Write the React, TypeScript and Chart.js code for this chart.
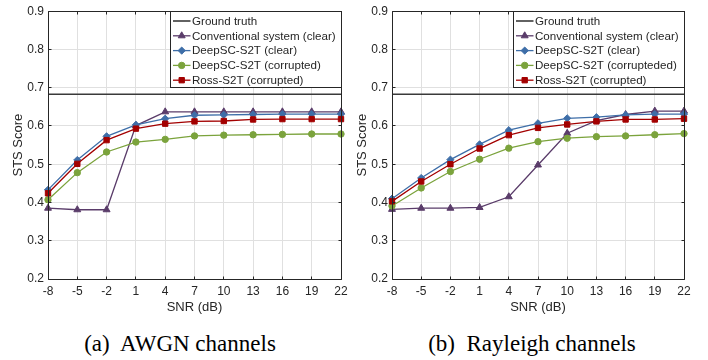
import React, { useEffect, useRef } from 'react';
import { Chart, registerables } from 'chart.js';

Chart.register(...registerables);

// ---------- data ----------
const snrLabels = ['-8', '-5', '-2', '1', '4', '7', '10', '13', '16', '19', '22'];
const groundTruthValue = 0.683;

const awgnConventional = [0.385, 0.381, 0.381, 0.601, 0.637, 0.637, 0.637, 0.637, 0.637, 0.637, 0.637];
const awgnDeepClear = [0.433, 0.511, 0.573, 0.603, 0.619, 0.628, 0.629, 0.630, 0.631, 0.631, 0.631];
const awgnDeepCorrupted = [0.407, 0.478, 0.532, 0.558, 0.565, 0.574, 0.576, 0.577, 0.578, 0.579, 0.579];
const awgnRoss = [0.424, 0.501, 0.563, 0.593, 0.606, 0.612, 0.613, 0.617, 0.618, 0.618, 0.618];

const rayConventional = [0.382, 0.385, 0.385, 0.387, 0.415, 0.498, 0.581, 0.614, 0.630, 0.639, 0.639];
const rayDeepClear = [0.410, 0.464, 0.512, 0.552, 0.589, 0.607, 0.620, 0.623, 0.629, 0.631, 0.631];
const rayDeepCorrupted = [0.391, 0.438, 0.481, 0.513, 0.542, 0.559, 0.568, 0.572, 0.574, 0.577, 0.580];
const rayRoss = [0.403, 0.455, 0.500, 0.541, 0.576, 0.595, 0.604, 0.612, 0.617, 0.617, 0.619];

const awgnLegend = ['Ground truth', 'Conventional system (clear)', 'DeepSC-S2T (clear)', 'DeepSC-S2T (corrupted)', 'Ross-S2T (corrupted)'];
const rayLegend = ['Ground truth', 'Conventional system (clear)', 'DeepSC-S2T (clear)', 'DeepSC-S2T (corrupteded)', 'Ross-S2T (corrupted)'];

const yTitle = 'STS Score';
const xTitle = 'SNR (dB)';

// ---------- styles ----------
const FONT = '"Liberation Sans", Arial, Helvetica, sans-serif';
const INK = '#262626';
const GRID = '#e0e0e0';
const colors = ['#3a3a3a', '#5a3c6a', '#3e6ea8', '#7ba33c', '#a30000'];
const markers = ['none', 'triangle', 'rectRot', 'circle', 'rect'];
const radii = [0, 4, 3.6, 3.2, 3.8];

function drawMarker(ctx: CanvasRenderingContext2D, style: string, x: number, y: number, r: number) {
  if (style === 'none') return;
  ctx.beginPath();
  if (style === 'triangle') {
    let rad = 0;
    ctx.moveTo(x + Math.sin(rad) * r, y - Math.cos(rad) * r);
    rad += (2 * Math.PI) / 3;
    ctx.lineTo(x + Math.sin(rad) * r, y - Math.cos(rad) * r);
    rad += (2 * Math.PI) / 3;
    ctx.lineTo(x + Math.sin(rad) * r, y - Math.cos(rad) * r);
    ctx.closePath();
  } else if (style === 'rectRot') {
    ctx.moveTo(x - r, y);
    ctx.lineTo(x, y - r);
    ctx.lineTo(x + r, y);
    ctx.lineTo(x, y + r);
    ctx.closePath();
  } else if (style === 'circle') {
    ctx.arc(x, y, r, 0, Math.PI * 2);
  } else if (style === 'rect') {
    const s = r * Math.SQRT1_2;
    ctx.rect(x - s, y - s, 2 * s, 2 * s);
  }
  ctx.fill();
  ctx.stroke();
}

type PanelProps = {
  series: number[][];
  legend: string[];
  plotLeft: number;
  padRight: number;
  caption: string;
  left: number;
};

const W = 354;
const H = 320;

function Panel({ series, legend, plotLeft, padRight, caption, left }: PanelProps) {
  const ref = useRef<HTMLCanvasElement | null>(null);

  useEffect(() => {
    const canvas = ref.current;
    if (!canvas) return;
    const ap = (p: number) => Math.round(p - 0.5) + 0.5;

    const decor = {
      id: 'decor',
      afterDatasetsDraw(chart: any) {
        const { ctx, chartArea: a, scales } = chart;
        const xs = scales.x;
        const ys = scales.y;
        ctx.save();
        ctx.strokeStyle = INK;
        ctx.lineWidth = 1;
        const L = ap(a.left), R = ap(a.right), T = ap(a.top), B = ap(a.bottom);
        ctx.beginPath();
        ctx.rect(L, T, R - L, B - T);
        ctx.stroke();
        // inward ticks
        ctx.beginPath();
        for (let i = 0; i < snrLabels.length; i++) {
          const px = ap(xs.getPixelForValue(i));
          ctx.moveTo(px, B); ctx.lineTo(px, B - 3);
          ctx.moveTo(px, T); ctx.lineTo(px, T + 3);
        }
        ys.ticks.forEach((t: any) => {
          const py = ap(ys.getPixelForValue(t.value));
          ctx.moveTo(L, py); ctx.lineTo(L + 3, py);
          ctx.moveTo(R, py); ctx.lineTo(R - 3, py);
        });
        ctx.stroke();

        // axis titles
        ctx.fillStyle = INK;
        ctx.font = `13px ${FONT}`;
        ctx.textAlign = 'center';
        ctx.textBaseline = 'middle';
        ctx.fillText(xTitle, (a.left + a.right) / 2, a.bottom + 28.5);
        ctx.save();
        ctx.translate(a.left - 30, (a.top + a.bottom) / 2);
        ctx.rotate(-Math.PI / 2);
        ctx.fillText(yTitle, 0, 0);
        ctx.restore();

        // legend
        ctx.font = `11.6px ${FONT}`;
        const tw = Math.max(...legend.map((l) => ctx.measureText(l).width));
        const boxW = Math.round(21.5 + tw + 6);
        const boxH = 76;
        const bx = R - boxW;
        const by = T;
        ctx.fillStyle = '#ffffff';
        ctx.fillRect(bx, by, boxW, boxH);
        ctx.strokeStyle = INK;
        ctx.strokeRect(bx, by, boxW, boxH);
        legend.forEach((lab, i) => {
          const yy = by + 9.5 + i * 14.8;
          ctx.strokeStyle = colors[i];
          ctx.fillStyle = colors[i];
          ctx.lineWidth = i === 0 ? 1.6 : 1.3;
          ctx.beginPath();
          ctx.moveTo(bx + 2.5, yy);
          ctx.lineTo(bx + 20, yy);
          ctx.stroke();
          ctx.lineWidth = 1;
          drawMarker(ctx, markers[i], bx + 11.2, yy, radii[i]);
          ctx.fillStyle = INK;
          ctx.textAlign = 'left';
          ctx.fillText(lab, bx + 21.5, yy + 0.5);
        });
        ctx.restore();
      },
    };

    const datasets = series.map((d, i) => ({
      label: legend[i],
      data: d,
      borderColor: colors[i],
      backgroundColor: colors[i],
      borderWidth: i === 0 ? 1.6 : 1.3,
      pointStyle: i === 0 ? false : (markers[i] as any),
      pointRadius: radii[i],
      pointBorderWidth: 1,
      tension: 0,
      fill: false,
      order: 5 - i,
    }));

    const chart = new Chart(canvas, {
      type: 'line',
      data: { labels: snrLabels, datasets },
      options: {
        animation: false,
        responsive: false,
        maintainAspectRatio: false,
        layout: { padding: { left: 0, right: padRight, top: 9, bottom: 0 } },
        plugins: { legend: { display: false }, tooltip: { enabled: false } },
        scales: {
          x: {
            type: 'category',
            offset: false,
            grid: { color: GRID, lineWidth: 1, drawTicks: false },
            border: { display: false },
            ticks: {
              color: INK,
              font: { family: FONT, size: 12 },
              padding: 5,
              maxRotation: 0,
              autoSkip: false,
            },
            afterFit: (s: any) => {
              s.height = H - 279;
            },
          },
          y: {
            type: 'linear',
            min: 0.2,
            max: 0.9,
            grid: { color: GRID, lineWidth: 1, drawTicks: false },
            border: { display: false },
            ticks: {
              stepSize: 0.1,
              color: INK,
              font: { family: FONT, size: 12 },
              padding: 4,
              callback: (v: any) => Number(v).toFixed(1),
            },
            afterFit: (s: any) => {
              s.width = plotLeft;
            },
          },
        },
      },
      plugins: [decor],
    });
    return () => chart.destroy();
  }, [series, legend, plotLeft, padRight]);

  return (
    <div style={{ position: 'absolute', left, top: 0, width: W, height: 360 }}>
      <canvas ref={ref} width={W} height={H} style={{ display: 'block', width: W, height: H }} />
      <div
        style={{
          position: 'absolute',
          top: 329,
          left: 0,
          width: W,
          textAlign: 'center',
          fontFamily: '"Liberation Serif", "Times New Roman", serif',
          fontSize: 23,
          lineHeight: '30px',
          color: '#000',
          paddingLeft: left === 0 ? 6 : 2,
          boxSizing: 'border-box',
          whiteSpace: 'pre',
        }}
      >
        {caption}
      </div>
    </div>
  );
}

const awgnSeries = [snrLabels.map(() => groundTruthValue), awgnConventional, awgnDeepClear, awgnDeepCorrupted, awgnRoss];
const raySeries = [snrLabels.map(() => groundTruthValue), rayConventional, rayDeepClear, rayDeepCorrupted, rayRoss];

export default function App() {
  return (
    <div style={{ position: 'absolute', left: 0, top: 0, width: 708, height: 360, background: '#fff' }}>
      <Panel series={awgnSeries} legend={awgnLegend} plotLeft={48} padRight={13} caption="(a)  AWGN channels" left={0} />
      <Panel series={raySeries} legend={rayLegend} plotLeft={38} padRight={24} caption="(b)  Rayleigh channels" left={354} />
    </div>
  );
}
